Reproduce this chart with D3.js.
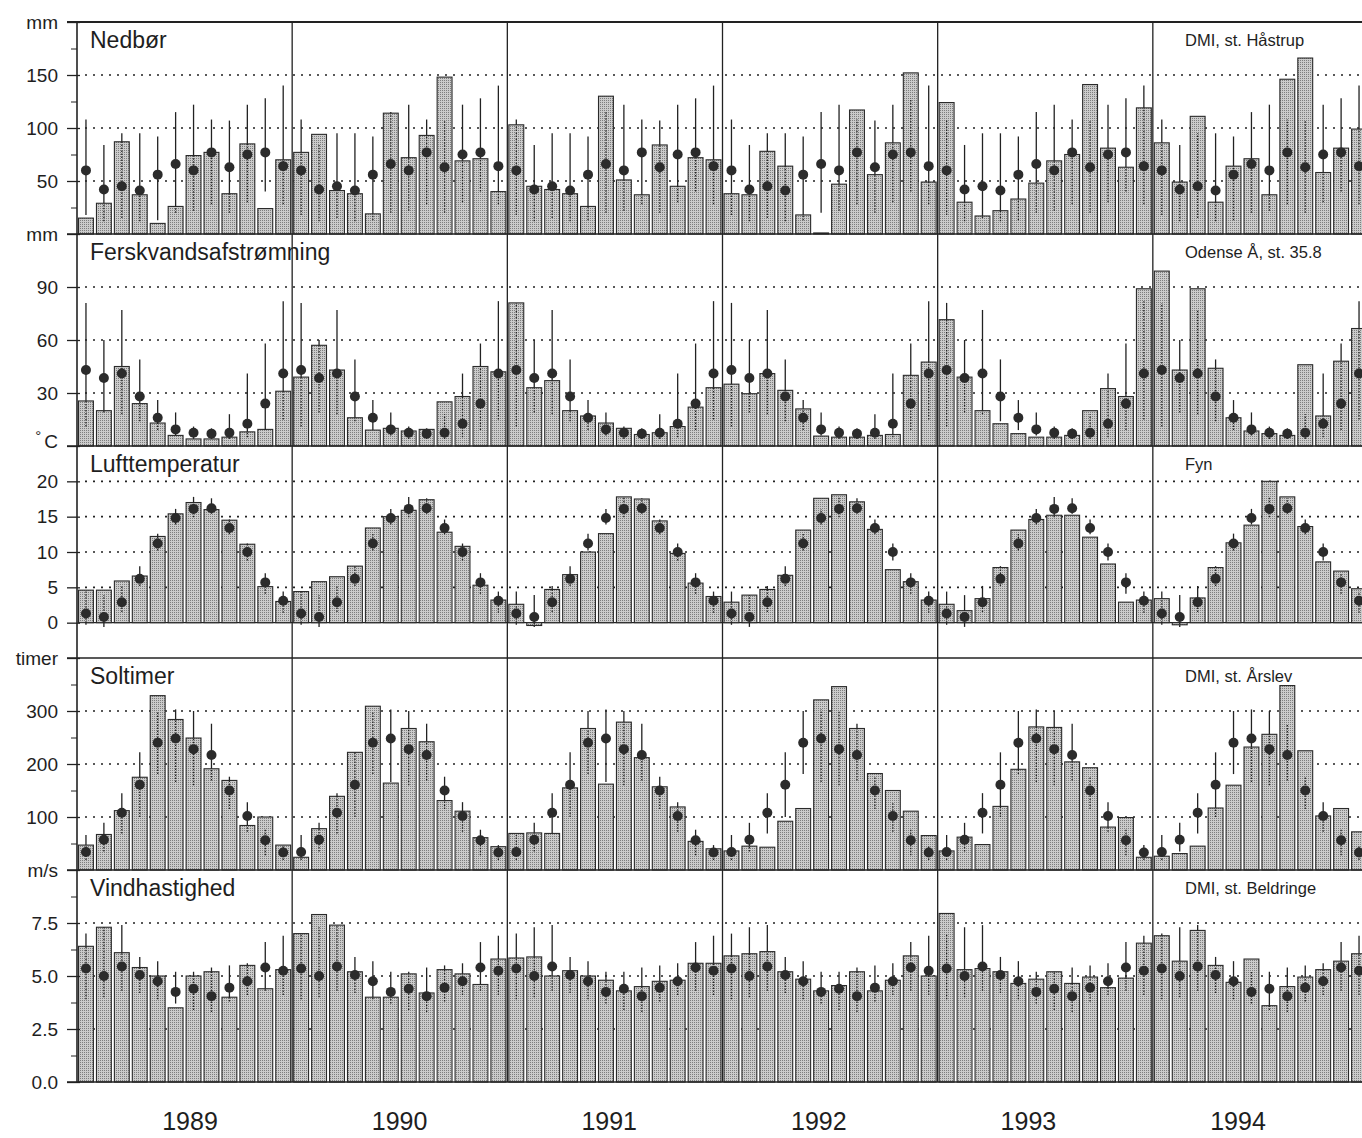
<!DOCTYPE html>
<html>
<head>
<meta charset="utf-8">
<script src="https://cdn.jsdelivr.net/npm/d3@7"></script>
<style>
  body { margin: 0; background: #fff; }
  svg { display: block; }
  text { font-family: 'Liberation Sans', Arial, sans-serif; fill: #1e1e1e; }
</style>
</head>
<body>
<div id="chart"></div>
<script>
const W = 1362, H = 1138;
const years = [1989, 1990, 1991, 1992, 1993, 1994];

// Nedbør (mm), monthly 1989-1994
const nedbor = [15, 29, 87, 37, 10, 26, 74, 77, 38, 85, 24, 70,
  77, 94, 41, 38, 19, 114, 72, 93, 148, 69, 71, 40,
  103, 45, 42, 38, 26, 130, 51, 37, 84, 45, 72, 70,
  38, 37, 78, 64, 18, 1, 47, 117, 56, 86, 152, 49,
  124, 30, 17, 22, 33, 48, 69, 75, 141, 81, 63, 119,
  86, 49, 111, 30, 64, 71, 37, 146, 166, 58, 81, 99];
const nedborNormal = [60, 42, 45, 41, 56, 66, 60, 77, 63, 75, 77, 64];
const nedborLow = [18, 12, 15, 12, 13, 20, 22, 28, 20, 30, 40, 28];
const nedborHigh = [108, 84, 95, 95, 92, 115, 122, 108, 107, 122, 128, 140];

// Ferskvandsafstrømning (mm)
const fersk = [25.5, 20, 45, 24, 13, 6, 4, 4, 5, 8, 9.4, 31,
  39, 57, 43, 16, 9, 10, 8.5, 9.4, 25, 28, 45, 42,
  81, 33, 37, 20, 17, 13, 10, 6.5, 7.5, 11, 22, 33,
  35, 29.6, 41, 31.5, 21, 5.6, 5, 5, 6, 6.5, 40, 47.5,
  71.5, 39, 20, 12.6, 7, 5, 5, 6, 20, 32.5, 28, 89,
  99, 43, 89, 44, 16, 8.5, 7, 6, 46, 17, 48, 66.5];
const ferskNormal = [43, 38.5, 41, 28, 16, 9.4, 7.5, 7, 7.5, 12.6, 24, 41];
const ferskLow = [11, 19, 18, 14, 9, 6, 4, 4, 4, 5, 9, 15];
const ferskHigh = [81, 60, 77, 49, 26, 19, 11, 10, 18, 41, 58, 82];

// Lufttemperatur (°C)
const temp = [4.6, 4.6, 5.9, 6.6, 12.2, 15.4, 17.0, 16.0, 14.5, 11.1, 5.1, 3.0,
  4.4, 5.8, 6.5, 8.0, 13.4, 15.0, 15.9, 17.4, 12.8, 10.8, 5.3, 3.2,
  2.6, -0.4, 4.7, 6.8, 10.0, 12.6, 17.8, 17.5, 14.4, 9.8, 5.6, 3.7,
  2.9, 3.9, 4.7, 6.7, 13.1, 17.6, 18.1, 17.1, 13.2, 7.5, 5.8, 3.2,
  2.6, 1.7, 3.4, 7.8, 13.1, 14.6, 15.2, 15.2, 12.1, 8.3, 2.9, 3.2,
  3.4, -0.3, 3.5, 7.8, 11.3, 13.8, 20.0, 17.8, 13.6, 8.6, 7.3, 4.8];
const tempNormal = [1.3, 0.8, 2.9, 6.2, 11.2, 14.8, 16.1, 16.2, 13.4, 10.0, 5.7, 3.1];
const tempLow = [-0.3, -0.6, 1.5, 5.2, 10.2, 13.9, 14.9, 15.4, 12.5, 8.8, 4.1, 1.4];
const tempHigh = [4.4, 3.9, 5.2, 8.0, 12.6, 16.1, 17.8, 17.6, 14.6, 11.2, 7.0, 4.4];

// Soltimer (timer)
const sol = [47, 67, 112, 175, 329, 284, 249, 191, 169, 84, 100, 47,
  24, 78, 139, 222, 309, 164, 267, 242, 131, 111, 61, 44,
  69, 70, 69, 155, 267, 162, 279, 212, 157, 119, 54, 40,
  36, 45, 43, 92, 116, 321, 346, 267, 182, 150, 111, 65,
  36, 62, 48, 120, 190, 270, 269, 204, 193, 81, 99, 24,
  26, 31, 45, 117, 160, 232, 256, 348, 225, 102, 116, 72];
const solNormal = [34, 57, 108, 161, 240, 248, 228, 217, 150, 102, 56, 33];
const solLow = [19, 35, 69, 100, 181, 166, 160, 169, 115, 72, 28, 19];
const solHigh = [66, 89, 145, 222, 300, 303, 300, 276, 176, 128, 76, 47];

// Vindhastighed (m/s)
const vind = [6.4, 7.3, 6.1, 5.4, 5.0, 3.5, 5.0, 5.2, 4.0, 5.5, 4.4, 5.3,
  7.0, 7.9, 7.4, 5.2, 4.0, 4.0, 5.1, 4.2, 5.3, 5.1, 4.6, 5.8,
  5.85, 5.9, 5.0, 5.25, 5.0, 4.8, 4.3, 4.5, 4.75, 4.8, 5.6, 5.6,
  5.95, 6.05, 6.15, 5.2, 4.85, 4.3, 4.55, 5.2, 4.3, 4.8, 5.95, 5.0,
  7.95, 5.3, 5.35, 5.2, 4.65, 4.85, 5.2, 4.65, 4.95, 4.45, 4.9, 6.55,
  6.9, 5.7, 7.15, 5.5, 4.7, 5.8, 3.6, 4.5, 4.95, 5.3, 5.7, 6.05];
const vindNormal = [5.35, 5.0, 5.45, 5.05, 4.75, 4.25, 4.4, 4.05, 4.45, 4.75, 5.4, 5.25];
const vindLow = [3.9, 4.0, 4.3, 4.2, 3.9, 3.7, 3.4, 3.3, 3.8, 4.1, 4.3, 4.1];
const vindHigh = [7.0, 7.3, 7.4, 5.9, 5.7, 5.2, 5.2, 5.4, 5.5, 5.6, 6.6, 6.9];

const panels = [
  { title: 'Nedbør', source: 'DMI, st. Håstrup', unit: 'mm', domain: [0, 200],
    ticks: [50, 100, 150, 200], minor: [25, 75, 125, 175],
    values: nedbor, normal: nedborNormal, low: nedborLow, high: nedborHigh, fmt: d3.format('d') },
  { title: 'Ferskvandsafstrømning', source: 'Odense Å, st. 35.8', unit: 'mm', domain: [0, 120],
    ticks: [30, 60, 90, 120], minor: [],
    values: fersk, normal: ferskNormal, low: ferskLow, high: ferskHigh, fmt: d3.format('d') },
  { title: 'Lufttemperatur', source: 'Fyn', unit: 'C', domain: [-5, 25],
    ticks: [0, 5, 10, 15, 20, 25], minor: [],
    values: temp, normal: tempNormal, low: tempLow, high: tempHigh, fmt: d3.format('d') },
  { title: 'Soltimer', source: 'DMI, st. Årslev', unit: 'timer', domain: [0, 400],
    ticks: [100, 200, 300, 400], minor: [50, 150, 250, 350],
    values: sol, normal: solNormal, low: solLow, high: solHigh, fmt: d3.format('d') },
  { title: 'Vindhastighed', source: 'DMI, st. Beldringe', unit: 'm/s', domain: [0, 10],
    ticks: [0, 2.5, 5, 7.5, 10], minor: [1.25, 3.75, 6.25, 8.75],
    values: vind, normal: vindNormal, low: vindLow, high: vindHigh, fmt: d3.format('.1f') }
];

const margin = { l: 77, t: 22 };
const panelH = 212;
const xRight = 1368;

const svg = d3.select('#chart').append('svg')
  .attr('width', W)
  .attr('height', H);

// stippled fill for bars
const pat = svg.append('defs').append('pattern')
  .attr('id', 'stipple')
  .attr('width', 2).attr('height', 2)
  .attr('patternUnits', 'userSpaceOnUse');
pat.append('rect').attr('width', 2).attr('height', 2).attr('fill', '#cbcbcb');
pat.append('rect').attr('width', 1).attr('height', 1).attr('fill', '#7e7e7e');

const months = d3.range(years.length * 12);
const x = d3.scaleBand()
  .domain(months)
  .range([margin.l, xRight])
  .paddingInner(0.17)
  .paddingOuter(0.085);
const slotStart = i => x(i) - x.step() * x.paddingInner() / 2;

panels.forEach((p, k) => {
  const top = margin.t + k * panelH;
  const bottom = top + panelH;
  const y = d3.scaleLinear().domain(p.domain).range([bottom, top]);
  const g = svg.append('g').attr('class', 'panel');

  // dotted grid (solid zero line for temperature)
  g.selectAll('.grid')
    .data(p.ticks.filter(t => t < p.domain[1] && (t !== 0 || p.domain[0] < 0)))
    .enter().append('line')
    .attr('x1', margin.l + 8).attr('x2', W)
    .attr('y1', d => y(d)).attr('y2', d => y(d))
    .attr('stroke', '#222')
    .attr('stroke-width', d => d === 0 ? 1.4 : 1.6)
    .attr('stroke-dasharray', d => d === 0 ? null : '2,6');

  const data = months.map(i => ({ i, v: p.values[i], n: p.normal[i % 12], lo: p.low[i % 12], hi: p.high[i % 12] }));
  const cx = d => x(d.i) + x.bandwidth() / 2;

  // range lines behind the bars
  g.selectAll('.err')
    .data(data).enter().append('line')
    .attr('x1', cx).attr('x2', cx)
    .attr('y1', d => y(d.lo)).attr('y2', d => y(d.hi))
    .attr('stroke', '#222').attr('stroke-width', 1.3);

  g.selectAll('.bar')
    .data(data).enter().append('rect')
    .attr('x', d => x(d.i))
    .attr('width', x.bandwidth())
    .attr('y', d => y(Math.max(0, d.v)))
    .attr('height', d => Math.abs(y(d.v) - y(0)))
    .attr('fill', 'url(#stipple)')
    .attr('stroke', '#2a2a2a')
    .attr('stroke-width', 1.1);

  // part of the range line seen through the bar
  g.selectAll('.errIn')
    .data(data.filter(d => d.v > d.lo)).enter().append('line')
    .attr('x1', cx).attr('x2', cx)
    .attr('y1', d => y(Math.max(d.lo, 0)))
    .attr('y2', d => y(Math.min(d.hi, d.v)))
    .attr('stroke', '#222').attr('stroke-width', 1.3)
    .attr('stroke-dasharray', '1.5,1.5');

  g.selectAll('.dot')
    .data(data).enter().append('circle')
    .attr('cx', cx)
    .attr('cy', d => y(d.n))
    .attr('r', 5)
    .attr('fill', '#2b2b2b');

  // y axis
  const axis = d3.axisLeft(y)
    .tickValues(p.ticks)
    .tickSize(10)
    .tickPadding(9)
    .tickFormat(d => d === p.domain[1] ? p.unit : p.fmt(d));
  const ax = g.append('g')
    .attr('transform', `translate(${margin.l},0)`)
    .call(axis);
  ax.select('.domain').remove();
  ax.selectAll('line').attr('x1', 3).attr('stroke', '#222').attr('stroke-width', 1.3);
  ax.selectAll('text').style('font-size', '19px').attr('fill', '#1e1e1e');
  if (p.unit === 'C') {
    ax.selectAll('text').filter(d => d === p.domain[1])
      .text(null)
      .call(t => {
        t.append('tspan').attr('dy', '-0.35em').style('font-size', '15px').text('°');
        t.append('tspan').attr('dx', '3').attr('dy', '0.35em').text('C');
      });
  }

  if (p.minor.length) {
    const mx = g.append('g')
      .attr('transform', `translate(${margin.l},0)`)
      .call(d3.axisLeft(y).tickValues(p.minor).tickSize(6).tickFormat(''));
    mx.select('.domain').remove();
    mx.selectAll('line').attr('stroke', '#222');
  }

  // panel top border
  g.append('line')
    .attr('x1', margin.l - 10).attr('x2', W)
    .attr('y1', top).attr('y2', top)
    .attr('stroke', '#222').attr('stroke-width', k === 0 ? 2 : 1.6);

  g.append('text')
    .attr('x', 90).attr('y', top + 26)
    .style('font-size', '23px')
    .text(p.title);

  g.append('text')
    .attr('x', 1185).attr('y', top + 24)
    .style('font-size', '16.5px')
    .text(p.source);
});

const bottomY = margin.t + panels.length * panelH;

// bottom axis and left axis
svg.append('line')
  .attr('x1', margin.l - 10).attr('x2', W)
  .attr('y1', bottomY).attr('y2', bottomY)
  .attr('stroke', '#222').attr('stroke-width', 1.6);
svg.append('line')
  .attr('x1', margin.l).attr('x2', margin.l)
  .attr('y1', margin.t).attr('y2', bottomY)
  .attr('stroke', '#222').attr('stroke-width', 1.6);

// year separators
svg.selectAll('.yearLine')
  .data(years.slice(1)).enter().append('line')
  .attr('x1', (d, i) => slotStart((i + 1) * 12))
  .attr('x2', (d, i) => slotStart((i + 1) * 12))
  .attr('y1', margin.t).attr('y2', bottomY)
  .attr('stroke', '#222').attr('stroke-width', 1.3);

// year labels
const yearX = d3.scaleLinear().domain([years[0], years[years.length - 1]]).range([190, 1238]);
svg.selectAll('.yearLabel')
  .data(years).enter().append('text')
  .attr('x', d => yearX(d))
  .attr('y', 1130)
  .attr('text-anchor', 'middle')
  .style('font-size', '25px')
  .text(d => d);
</script>
</body>
</html>
